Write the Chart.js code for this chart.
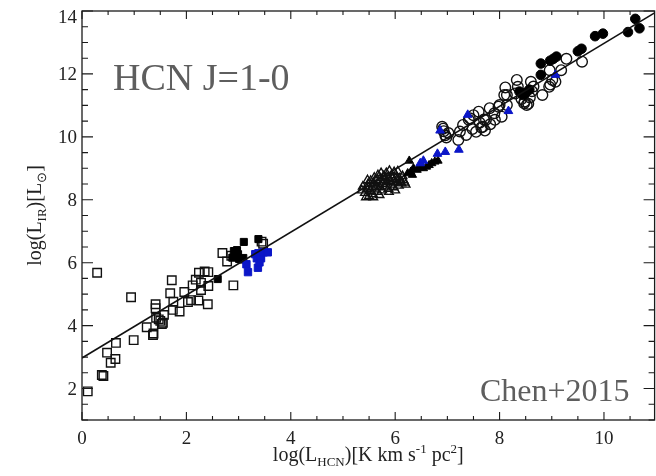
<!DOCTYPE html>
<html>
<head>
<meta charset="utf-8">
<script src="https://cdn.jsdelivr.net/npm/chart.js@4/dist/chart.umd.min.js"></script>
<style>
  html, body { margin: 0; padding: 0; background: #fff; overflow: hidden; width: 656px; height: 476px; }
  #wrap { width: 662px; height: 476px; }
</style>
</head>
<body>
<div id="wrap"><canvas id="c" width="662" height="476"></canvas></div>
<script>
// ---- axis ranges and tick labels ----
const xMin = 0, xMax = 10.97;
const yMin = 1, yMax = 14;
const xTicks = [0, 2, 4, 6, 8, 10];
const yTicks = [2, 4, 6, 8, 10, 12, 14];

// ---- log L_HCN vs log L_IR samples ----
// Galactic dense clumps (open squares)
const clumpsOpen = [
  [0.11,1.91],[0.29,5.68],[0.38,2.43],[0.41,2.40],[0.48,3.14],[0.55,2.82],[0.64,2.94],[0.65,3.45],
  [0.94,4.90],[0.99,3.54],[1.24,3.95],[1.36,3.70],[1.37,3.75],[1.41,4.68],[1.41,4.55],[1.42,4.25],
  [1.47,4.20],[1.50,4.15],[1.53,4.05],[1.55,4.09],[1.57,4.34],[1.69,5.03],[1.72,5.44],[1.75,4.76],
  [1.74,4.50],[1.87,4.45],[1.96,5.07],[2.03,4.75],[2.09,4.81],[2.12,5.28],[2.18,5.46],[2.24,5.68],
  [2.23,4.80],[2.28,5.36],[2.28,5.13],[2.35,5.72],[2.42,5.70],[2.42,5.26],[2.41,4.68],[2.69,6.31],
  [2.78,6.04],[2.86,6.22],[2.90,5.28],[3.44,6.67],[3.47,6.60]
];
// Galactic clumps, second sample (filled black squares)
const clumpsFilled = [
  [2.60,5.48],[2.88,6.16],[2.91,6.37],[2.94,6.19],[2.97,6.40],[2.99,6.27],[3.01,6.12],[3.05,6.10],
  [3.09,6.15],[3.10,6.66],[3.38,6.75]
];
// Galactic clumps, third sample (blue squares)
const clumpsBlue = [
  [3.15,5.95],[3.18,5.70],[3.32,6.27],[3.37,5.84],[3.40,6.01],[3.35,6.14],[3.43,6.14],[3.38,6.30],
  [3.42,6.19],[3.48,6.33],[3.56,6.33]
];
// Nearby galaxy disks, resolved (open triangles)
const disksOpen = [
  [5.36,8.30],[5.38,8.42],[5.42,8.22],[5.44,8.08],[5.46,8.35],[5.48,8.50],[5.50,8.12],[5.52,8.28],
  [5.53,8.60],[5.55,8.40],[5.57,8.18],[5.58,8.52],[5.60,8.70],[5.61,8.33],[5.63,8.45],[5.64,8.62],
  [5.66,8.25],[5.67,8.78],[5.69,8.55],[5.70,8.40],[5.72,8.68],[5.73,8.85],[5.75,8.30],[5.76,8.50],
  [5.78,8.75],[5.79,8.62],[5.81,8.42],[5.83,8.85],[5.84,8.56],[5.86,8.70],[5.87,8.35],[5.89,8.92],
  [5.90,8.60],[5.92,8.48],[5.93,8.78],[5.95,8.66],[5.97,8.40],[5.98,8.88],[6.00,8.55],[6.02,8.72],
  [6.03,8.62],[6.05,8.90],[6.07,8.45],[6.08,8.68],[6.10,8.58],[6.12,8.52],[6.14,8.75],[6.16,8.62],
  [6.18,8.55],[6.20,8.48],[5.58,8.08],[5.70,8.15],[5.88,8.25],[6.00,8.30],[5.47,8.62]
];
// Galaxy disks, second sample (filled black triangles)
const disksFilled = [
  [6.24,8.84],[6.30,8.89],[6.33,8.79],[6.35,9.00],[6.42,8.95],[6.48,9.02],[6.54,9.00],[6.60,9.05],
  [6.65,9.10],[6.70,9.16],[6.76,9.21],[6.82,9.24],[6.27,9.24]
];
// Galaxies, third sample (blue triangles)
const galaxiesBlue = [
  [6.48,9.16],[6.54,9.24],[6.81,9.46],[6.96,9.52],[7.22,9.59],[6.86,10.20],[7.39,10.70],[8.17,10.82],[9.07,11.97]
];
// Normal galaxies and LIRGs (open circles)
const galaxiesOpen = [
  [6.90,10.32],[6.93,10.18],[6.96,10.05],[6.92,10.26],[6.98,9.98],[7.02,10.12],[7.21,9.90],[7.24,10.17],
  [7.30,10.38],[7.36,10.06],[7.41,10.54],[7.43,10.59],[7.50,10.69],[7.55,10.16],[7.48,10.25],[7.60,10.80],
  [7.62,10.45],[7.65,10.30],[7.68,10.32],[7.70,10.55],[7.74,10.54],[7.72,10.20],[7.81,10.91],[7.82,10.40],
  [7.90,10.75],[7.91,10.54],[7.98,10.96],[8.00,11.01],[8.04,10.64],[8.09,11.33],[8.11,11.57],[8.14,11.01],
  [8.14,11.33],[8.30,11.38],[8.33,11.81],[8.35,11.59],[8.42,11.20],[8.47,11.07],[8.48,11.12],[8.52,11.01],
  [8.55,11.05],[8.58,11.25],[8.62,11.45],[8.65,11.60],[8.60,11.75],[8.82,11.33],[8.95,11.59],[8.97,11.66],
  [9.01,11.81],[9.07,11.75],[8.96,12.12],[9.18,12.12],[9.28,12.48],[9.58,12.39]
];
// ULIRGs and high-z sources (filled black circles)
const galaxiesFilled = [
  [8.38,11.44],[8.45,11.33],[8.50,11.40],[8.57,11.50],[8.79,12.33],[8.79,11.97],[8.97,12.42],[9.03,12.48],
  [9.09,12.55],[9.50,12.72],[9.57,12.80],[9.83,13.20],[9.98,13.28],[10.46,13.33],[10.60,13.75],[10.68,13.45]
];
// Best-fit relation
const fitX = [0, 10.97];
const fitY = [2.97, 13.94];

const pts = arr => arr.map(([x, y]) => ({ x, y }));
const BLUE = '#0b16c8';
const SERIF = '"Liberation Serif", "Times New Roman", serif';

function richText(ctx, parts, x, y, base) {
  const fontFor = k => (k === 'n' ? base : Math.round(base * 0.64)) + 'px ' + SERIF;
  let w = 0;
  parts.forEach(([t, k]) => { ctx.font = fontFor(k); w += ctx.measureText(t).width; });
  let cx = x - w / 2;
  parts.forEach(([t, k]) => {
    ctx.font = fontFor(k);
    const dy = k === 'sub' ? base * 0.24 : k === 'sup' ? -base * 0.40 : 0;
    ctx.fillText(t, cx, y + dy);
    cx += ctx.measureText(t).width;
  });
}

const framePlugin = {
  id: 'frame',
  afterDatasetsDraw(chart) {
    const { ctx, chartArea: a, scales: { x, y } } = chart;
    ctx.save();
    // frame
    ctx.strokeStyle = '#1a1a1a';
    ctx.lineWidth = 1.3;
    ctx.strokeRect(a.left, a.top, a.right - a.left, a.bottom - a.top);
    // inward ticks on all four sides
    ctx.lineWidth = 1.1;
    ctx.beginPath();
    for (let i = 0; i * 0.5 <= xMax; i++) {
      const v = i * 0.5;
      const px = x.getPixelForValue(v);
      const L = xTicks.includes(v) ? 8 : 4;
      ctx.moveTo(px, a.bottom); ctx.lineTo(px, a.bottom - L);
      ctx.moveTo(px, a.top); ctx.lineTo(px, a.top + L);
    }
    for (let i = 0; yMin + i * 0.5 <= yMax; i++) {
      const v = yMin + i * 0.5;
      const py = y.getPixelForValue(v);
      const L = yTicks.includes(v) ? 11 : 6;
      ctx.moveTo(a.left, py); ctx.lineTo(a.left + L, py);
      ctx.moveTo(a.right, py); ctx.lineTo(a.right - L, py);
    }
    ctx.stroke();

    // tick labels
    ctx.fillStyle = '#222';
    ctx.font = '19px ' + SERIF;
    ctx.textBaseline = 'alphabetic';
    ctx.textAlign = 'center';
    xTicks.forEach(v => ctx.fillText(String(v), x.getPixelForValue(v), 443.5));
    ctx.textAlign = 'right';
    yTicks.forEach(v => {
      const py = y.getPixelForValue(v);
      ctx.fillText(String(v), 77, Math.max(py + 6.5, 23)); // keep top label inside the canvas
    });

    // axis titles
    ctx.textAlign = 'left';
    ctx.fillStyle = '#222';
    richText(ctx, [['log(L', 'n'], ['HCN', 'sub'], [')[K km s', 'n'], ['-1', 'sup'], [' pc', 'n'], ['2', 'sup'], [']', 'n']],
      (a.left + a.right) / 2, 461, 20);
    ctx.save();
    ctx.translate(41, (a.top + a.bottom) / 2);
    ctx.rotate(-Math.PI / 2);
    richText(ctx, [['log(L', 'n'], ['IR', 'sub'], [')[L', 'n'], ['\u2299', 'sub'], [']', 'n']], 0, 0, 20);
    ctx.restore();

    // panel annotations
    ctx.fillStyle = '#5e5e5e';
    ctx.font = '38px ' + SERIF;
    ctx.fillText('HCN J=1-0', 113, 90);
    ctx.font = '32px ' + SERIF;
    ctx.fillText('Chen+2015', 480, 401);
    ctx.restore();
  }
};

const open = (data, style, r) => ({
  type: 'scatter', data: pts(data), pointStyle: style, pointRadius: r,
  pointBackgroundColor: 'rgba(0,0,0,0)', pointBorderColor: '#111', pointBorderWidth: 1.4
});
const filled = (data, style, r, color) => ({
  type: 'scatter', data: pts(data), pointStyle: style, pointRadius: r,
  pointBackgroundColor: color, pointBorderColor: color, pointBorderWidth: 1
});

new Chart(document.getElementById('c'), {
  data: {
    datasets: [
      {
        type: 'line', data: fitX.map((x, i) => ({ x, y: fitY[i] })),
        borderColor: '#111', borderWidth: 1.6, pointRadius: 0, fill: false, tension: 0
      },
      filled(galaxiesBlue, 'triangle', 5, BLUE),
      filled(galaxiesFilled, 'circle', 4.8, '#000'),
      open(galaxiesOpen, 'circle', 5.3),
      filled(disksFilled, 'triangle', 4.8, '#000'),
      open(disksOpen, 'triangle', 5),
      filled(clumpsBlue, 'rect', 5.2, BLUE),
      filled(clumpsFilled, 'rect', 5.0, '#000'),
      open(clumpsOpen, 'rect', 6)
    ]
  },
  options: {
    responsive: false,
    animation: false,
    devicePixelRatio: 1,
    layout: { padding: { top: 11, left: 82, bottom: 56, right: 2 } },
    scales: {
      x: { type: 'linear', min: xMin, max: xMax, display: false },
      y: { type: 'linear', min: yMin, max: yMax, display: false }
    },
    plugins: { legend: { display: false }, tooltip: { enabled: false } }
  },
  plugins: [framePlugin]
});
</script>
</body>
</html>
